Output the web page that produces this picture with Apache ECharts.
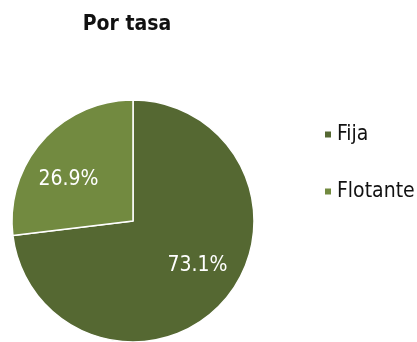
<!DOCTYPE html>
<html>
<head>
<meta charset="utf-8">
<script src="https://cdn.jsdelivr.net/npm/echarts@6/dist/echarts.min.js"></script>
<style>
  html, body { margin: 0; padding: 0; background: #fff; }
  #chart { width: 417px; height: 342px; }
</style>
</head>
<body>
<div id="chart"></div>
<script>
// Loan composition by rate type
const categories = ['Fija', 'Flotante'];
const shares = [73.1, 26.9];
const colors = ['#556832', '#728a40'];
// nudges that move each percentage label away from the slice midpoint
const labelNudges = [[17, 2], [-17, 1]];

const FONT = 'DejaVu Sans Condensed';

const chart = echarts.init(document.getElementById('chart'), null, { renderer: 'canvas' });

chart.setOption({
  animation: false,
  backgroundColor: '#ffffff',
  title: {
    text: 'Por tasa',
    left: 122,
    top: 9,
    textAlign: 'center',
    textStyle: { fontFamily: FONT, fontWeight: 'bold', fontSize: 21, color: '#111' }
  },
  legend: {
    orient: 'vertical',
    left: 318,
    top: 119,
    itemWidth: 8,
    itemHeight: 8,
    itemGap: 36,
    icon: 'rect',
    data: categories,
    textStyle: { fontFamily: FONT, fontSize: 21, color: '#111', padding: [0, 0, 0, 0] }
  },
  series: [{
    type: 'pie',
    center: [133, 221],
    radius: 121,
    startAngle: 90,
    clockwise: true,
    silent: true,
    itemStyle: { borderColor: '#ffffff', borderWidth: 1.5 },
    label: {
      position: 'inside',
      formatter: p => p.value.toFixed(1) + '%',
      color: '#ffffff',
      fontFamily: FONT,
      fontSize: 21
    },
    labelLine: { show: false },
    data: categories.map((c, i) => ({
      name: c,
      value: shares[i],
      itemStyle: { color: colors[i] },
      label: { offset: labelNudges[i] }
    }))
  }]
});
</script>
</body>
</html>
